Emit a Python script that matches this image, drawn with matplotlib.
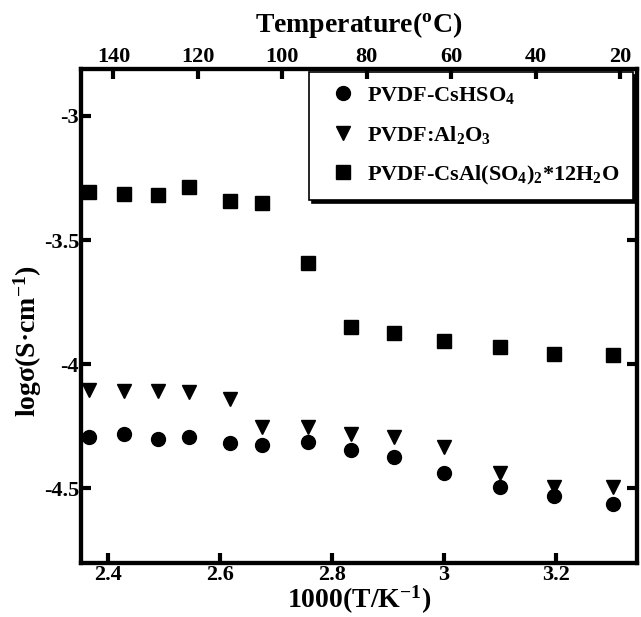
import matplotlib
matplotlib.use('Agg')
import matplotlib.pyplot as plt

plt.rcParams['font.family'] = ['Liberation Serif', 'DejaVu Serif']
plt.rcParams['font.weight'] = 'bold'
plt.rcParams['axes.unicode_minus'] = False
plt.rcParams['mathtext.fontset'] = 'custom'
plt.rcParams['mathtext.rm'] = 'Liberation Serif:bold'
plt.rcParams['mathtext.it'] = 'Liberation Serif:bold'
plt.rcParams['mathtext.bf'] = 'Liberation Serif:bold'
plt.rcParams['mathtext.sf'] = 'Liberation Serif'
plt.rcParams['mathtext.default'] = 'rm'

# 1000/T values
inv_T = [2.366, 2.428, 2.488, 2.544, 2.618, 2.674, 2.756, 2.833,
         2.911, 2.999, 3.100, 3.197, 3.302]

cshso4 = [-4.292, -4.281, -4.303, -4.292, -4.319, -4.326, -4.314, -4.344,
          -4.375, -4.440, -4.496, -4.531, -4.563]
al2o3 = [-4.104, -4.107, -4.107, -4.111, -4.141, -4.252, -4.255, -4.280,
         -4.295, -4.332, -4.440, -4.494, -4.496]
csal = [-3.307, -3.314, -3.318, -3.287, -3.342, -3.352, -3.593, -3.850,
        -3.876, -3.905, -3.929, -3.959, -3.963]

x_ticks = [2.4, 2.6, 2.8, 3.0, 3.2]
x_labels = ['2.4', '2.6', '2.8', '3', '3.2']
y_ticks = [-3, -3.5, -4, -4.5]
y_labels = ['-3', '-3.5', '-4', '-4.5']
temp_ticks = [140, 120, 100, 80, 60, 40, 20]

fig = plt.figure(figsize=(6.41, 6.17), dpi=100)
ax = fig.add_axes([0.1256, 0.0880, 0.8682, 0.8005])

ax.plot(inv_T, cshso4, 'o', color='black', ms=10, label=r'PVDF-CsHSO$_4$')
ax.plot(inv_T, al2o3, 'v', color='black', ms=9.5, label=r'PVDF:Al$_2$O$_3$')
ax.plot(inv_T, csal, 's', color='black', ms=10.5,
        label=r'PVDF-CsAl(SO$_4$)$_2$$\mathsf{*12H_2O}$')

ax.set_xlim(2.35, 3.345)
ax.set_ylim(-4.80, -2.81)
ax.set_xticks(x_ticks)
ax.set_xticklabels(x_labels)
ax.set_yticks(y_ticks)
ax.set_yticklabels(y_labels)
ax.tick_params(axis='both', direction='in', length=7, width=3,
               labelsize=16, pad=2, right=True)
ax.tick_params(axis='y', pad=1)
for s in ax.spines.values():
    s.set_linewidth(3)

ax.set_xlabel(r'1000(T/K$^{-1}$)', fontsize=20, fontweight='bold', labelpad=-1)
ax.set_ylabel(r'logσ(S·cm$^{-1}$)', fontsize=20, fontweight='bold', labelpad=0)
ax.yaxis.label.set_y(0.448)

top = ax.twiny()
top.set_xlim(147.8, 16.0)
top.set_xticks(temp_ticks)
top.tick_params(axis='x', direction='in', length=7, width=3, labelsize=16, pad=1)
top.set_xlabel(r'Temperature($^{\rm o}$C)', fontsize=20, fontweight='bold', labelpad=11)
for s in top.spines.values():
    s.set_linewidth(3)

leg = ax.legend(loc='upper right', bbox_to_anchor=(0.993, 0.994), borderaxespad=0,
                fontsize=16, frameon=True, fancybox=False,
                shadow={'facecolor': 'black', 'edgecolor': 'black', 'alpha': 1.0},
                handletextpad=0.2, labelspacing=0.8, borderpad=0.6,
                handlelength=1.8)
leg.get_frame().set_edgecolor('black')
leg.get_frame().set_linewidth(1.2)

fig.savefig('out.png', dpi=100, facecolor='white')
